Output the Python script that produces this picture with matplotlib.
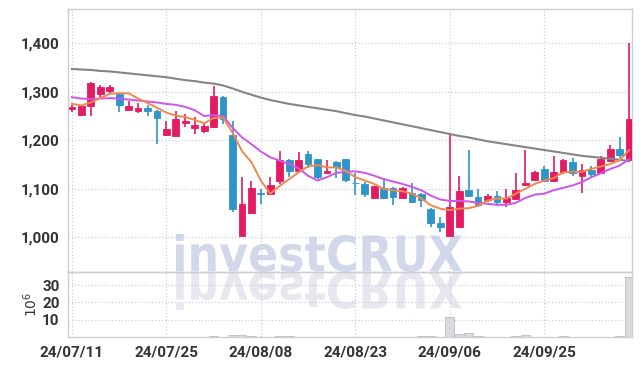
import matplotlib
matplotlib.use("Agg")
import matplotlib.pyplot as plt
from matplotlib.ticker import FuncFormatter
from matplotlib.textpath import TextPath
from matplotlib.patches import PathPatch
from matplotlib.font_manager import FontProperties
from matplotlib.transforms import Affine2D, IdentityTransform

# daily candles, 24/07/11 .. 24/10/xx (60 trading days)
opens = [1264, 1252, 1270, 1295, 1302, 1296, 1263, 1261, 1266, 1261,
         1210, 1209, 1235, 1225, 1219, 1227, 1290, 1210, 1003, 1050,
         1091, 1090, 1117, 1160, 1137, 1171, 1161, 1133, 1155, 1161,
         1113, 1110, 1081, 1101, 1102, 1082, 1092, 1090, 1059, 1030,
         1003, 1022, 1097, 1083, 1076, 1086, 1073, 1078, 1108, 1119,
         1141, 1117, 1134, 1155, 1126, 1139, 1132, 1158, 1182, 1159]
highs = [1273, 1271, 1320, 1315, 1315, 1297, 1282, 1276, 1273, 1263,
         1240, 1260, 1255, 1248, 1234, 1311, 1291, 1240, 1125, 1117,
         1100, 1125, 1178, 1162, 1176, 1178, 1162, 1160, 1157, 1162,
         1133, 1114, 1106, 1122, 1103, 1103, 1112, 1091, 1060, 1041,
         1214, 1127, 1180, 1100, 1090, 1096, 1100, 1133, 1181, 1136,
         1146, 1167, 1161, 1163, 1151, 1148, 1168, 1190, 1206, 1400]
lows = [1258, 1251, 1250, 1286, 1295, 1258, 1262, 1257, 1250, 1193,
        1208, 1208, 1228, 1212, 1215, 1226, 1234, 1052, 1002, 1048,
        1069, 1089, 1110, 1124, 1136, 1142, 1120, 1132, 1122, 1114,
        1087, 1084, 1080, 1080, 1067, 1078, 1070, 1063, 1022, 1010,
        1002, 1020, 1083, 1063, 1073, 1065, 1062, 1077, 1106, 1116,
        1114, 1115, 1131, 1127, 1091, 1123, 1131, 1155, 1163, 1158]
closes = [1268, 1270, 1318, 1310, 1310, 1272, 1271, 1266, 1261, 1245,
          1224, 1243, 1240, 1232, 1229, 1291, 1243, 1058, 1068, 1101,
          1089, 1108, 1160, 1137, 1159, 1152, 1125, 1137, 1144, 1118,
          1111, 1090, 1106, 1082, 1083, 1101, 1073, 1076, 1030, 1021,
          1063, 1096, 1085, 1066, 1086, 1072, 1081, 1098, 1113, 1135,
          1117, 1135, 1159, 1133, 1139, 1130, 1162, 1182, 1170, 1243]
# volume in millions
volume = [0.1, 0.1, 0.2, 0.1, 0.1, 0.1, 0.1, 0.1, 0.1, 0.2,
          0.1, 0.1, 0.1, 0.1, 0.1, 0.6, 0.2, 1.2, 1.2, 0.6,
          0.2, 0.2, 0.5, 0.6, 0.1, 0.1, 0.1, 0.1, 0.1, 0.1,
          0.1, 0.1, 0.1, 0.1, 0.1, 0.1, 0.2, 0.4, 0.5, 0.2,
          11.4, 1.8, 2.5, 0.7, 0.2, 0.2, 0.2, 0.8, 1.2, 0.2,
          0.2, 0.2, 0.5, 0.2, 0.2, 0.1, 0.1, 0.2, 0.3, 34.5]

# moving average lines
ma5 = [1275, 1272, 1278, 1287, 1296, 1297, 1297, 1286, 1277, 1267,
       1257, 1251, 1248, 1242, 1235, 1246, 1247, 1216, 1178, 1155,
       1117, 1090, 1106, 1120, 1134, 1146, 1149, 1144, 1144, 1137,
       1124, 1117, 1110, 1100, 1097, 1095, 1090, 1080, 1066, 1059,
       1056, 1059, 1060, 1065, 1076, 1080, 1080, 1090, 1100, 1110,
       1117, 1122, 1134, 1135, 1135, 1141, 1146, 1151, 1159, 1180]
ma20 = [1289, 1286, 1285, 1286, 1287, 1286, 1284, 1282, 1280, 1278,
        1275, 1273, 1269, 1262, 1250, 1252, 1250, 1226, 1206, 1192,
        1177, 1165, 1158, 1151, 1142, 1127, 1117, 1124, 1133, 1135,
        1136, 1133, 1127, 1120, 1115, 1110, 1104, 1097, 1086, 1078,
        1075, 1075, 1074, 1071, 1069, 1067, 1067, 1071, 1081, 1088,
        1090, 1097, 1102, 1107, 1114, 1124, 1132, 1141, 1148, 1161]
ma_long = [1347, 1346, 1345, 1343, 1342, 1340, 1338, 1336, 1334, 1332,
           1330, 1327, 1324, 1322, 1319, 1317, 1313, 1307, 1300, 1294,
           1288, 1283, 1279, 1275, 1272, 1269, 1266, 1263, 1260, 1256,
           1252, 1249, 1245, 1241, 1237, 1233, 1229, 1225, 1221, 1217,
           1213, 1209, 1206, 1202, 1198, 1195, 1192, 1189, 1186, 1183,
           1180, 1177, 1174, 1171, 1168, 1166, 1164, 1162, 1160, 1157]

tick_pos = [0, 10, 20, 30, 40, 50]
tick_labels = ["24/07/11", "24/07/25", "24/08/08", "24/08/23", "24/09/06", "24/09/25"]
price_ticks = [1000, 1100, 1200, 1300, 1400]
vol_ticks = [10, 20, 30]

UP = "#E31B63"
DOWN = "#2E95C8"
GRID = "#C6C6DE"
SPINE = "#CDCDD6"
tick_font = {"family": ["DejaVu Sans Condensed", "Liberation Sans Narrow", "Roboto", "DejaVu Sans"],
             "weight": "bold", "size": 11}

fig = plt.figure(figsize=(6.42, 3.66), dpi=100)
fig.patch.set_facecolor("white")
ax = fig.add_axes([68 / 642, 1 - 272 / 366, 564 / 642, 263 / 366])
axv = fig.add_axes([68 / 642, 1 - 337 / 366, 564 / 642, 65 / 366], sharex=ax)


def watermark(x0, x1, ybase, ytop, color, flip=False):
    tp = TextPath((0, 0), "investCRUX", size=50,
                  prop=FontProperties(family="DejaVu Sans", weight="bold"))
    ext = tp.get_extents()
    sx = (x1 - x0) / ext.width
    sy = (ytop - ybase) / ext.height
    if flip:
        sy = -sy
    tr = Affine2D().translate(-ext.x0, -ext.y0).scale(sx, sy).translate(x0, ybase)
    patch = PathPatch(tr.transform_path(tp), facecolor=color, edgecolor="none",
                      transform=IdentityTransform(), zorder=-5)
    fig.add_artist(patch)


watermark(176, 462, 94, 132, "#D2D8EA")
watermark(176, 462, 94, 132, "#E7E7F0", flip=True)

for a in (ax, axv):
    a.set_facecolor("none")
    a.grid(True, color=GRID, linestyle=(0, (1, 2)), linewidth=0.8)
    a.set_axisbelow(True)
    a.tick_params(length=0, colors="#333333")
    for s in a.spines.values():
        s.set_color(SPINE)
        s.set_linewidth(1.0)

# candles
x = list(range(len(opens)))
for i in x:
    o, h, l, c = opens[i], highs[i], lows[i], closes[i]
    col = UP if c >= o else DOWN
    ax.vlines(i, l, h, color=col, linewidth=1.2, zorder=3)
    body = max(abs(c - o), 1.5)
    ax.bar(i, body, bottom=min(o, c), width=0.72, color=col,
           edgecolor=col, linewidth=0.6, zorder=4)

ax.plot(x, ma_long, color="#858585", linewidth=1.5, zorder=5)
ax.plot(x, ma20, color="#CC55EE", linewidth=1.4, zorder=5)
ax.plot(x, ma5, color="#F0884F", linewidth=1.4, zorder=5)

ax.set_xlim(-0.42, 59.3)
ax.set_ylim(928.5, 1470.7)
ax.set_yticks(price_ticks)
ax.yaxis.set_major_formatter(FuncFormatter(lambda v, p: f"{int(v):,}"))
ax.tick_params(labelbottom=False, pad=6)
for lab in ax.get_yticklabels():
    lab.set_fontproperties(FontProperties(**tick_font))

axv.bar(x, volume, width=0.95, color="#D9D9DF", edgecolor="#BDBDC6",
        linewidth=0.6, zorder=3)
axv.set_ylim(0, 37.6)
axv.set_yticks(vol_ticks)
axv.set_xticks(tick_pos)
axv.set_xticklabels(tick_labels)
axv.tick_params(pad=6)
for lab in axv.get_yticklabels() + axv.get_xticklabels():
    lab.set_fontproperties(FontProperties(**tick_font))
axv.set_ylabel(r"$10^6$", fontsize=10, color="#333333")
axv.yaxis.set_label_coords(-0.05, 0.5)

fig.savefig("out.png", dpi=100)
